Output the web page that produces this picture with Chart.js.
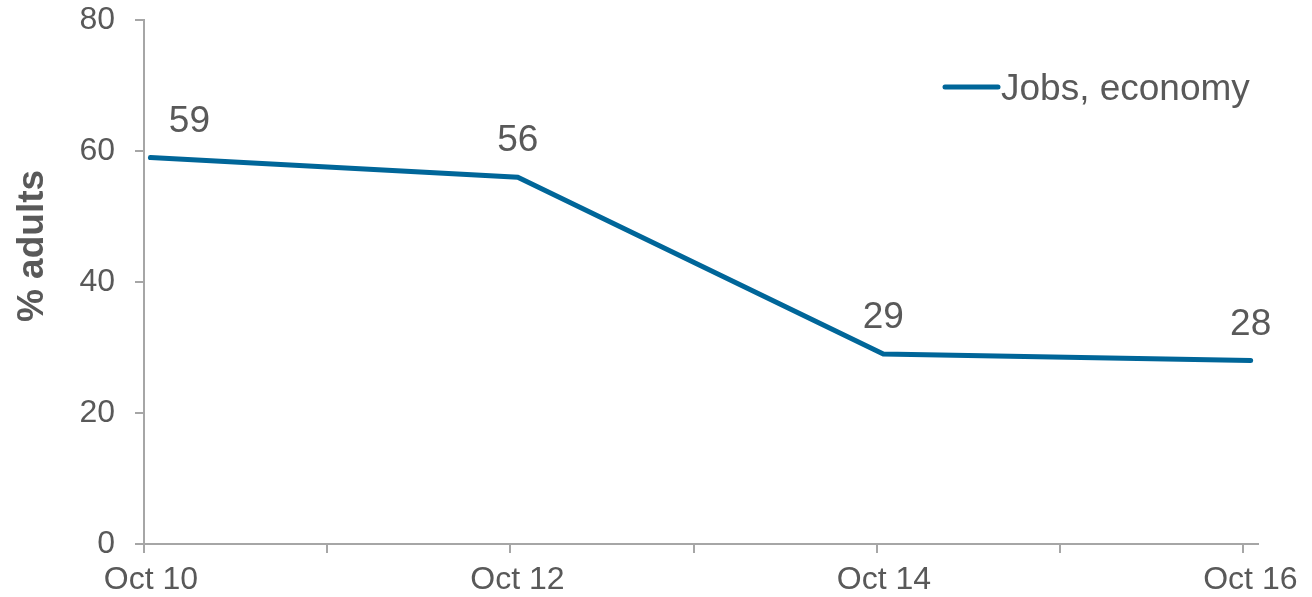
<!DOCTYPE html>
<html><head><meta charset="utf-8">
<script src="https://cdn.jsdelivr.net/npm/chart.js@4"></script>
<style>html,body{margin:0;padding:0;background:#fff}#wrap{width:1312px;height:597px}</style>
</head><body><div id="wrap"><canvas id="c" width="1312" height="597"></canvas></div>
<script>
const seriesName = 'Jobs, economy';
const surveyDays = [10.035, 12.04, 14.035, 16.04];   // day of October of each reading
const jobsEconomy = [59, 56, 29, 28];
const xTickDays = [10, 11, 12, 13, 14, 15, 16];
const xTickLabels = ['Oct 10', '', 'Oct 12', '', 'Oct 14', '', 'Oct 16'];
const yTicks = [0, 20, 40, 60, 80];
const yTitle = '% adults';

const FONT = '"Liberation Sans", Arial, sans-serif';
const TEXT = '#595959';
const AXIS = '#a6a6a6';
const BLUE = '#006699';

const valueLabels = {
  id: 'valueLabels',
  afterDatasetsDraw(chart) {
    const ctx = chart.ctx;
    const meta = chart.getDatasetMeta(0);
    ctx.save();
    ctx.font = '37px ' + FONT;
    ctx.fillStyle = TEXT;
    ctx.textAlign = 'center';
    ctx.textBaseline = 'alphabetic';
    meta.data.forEach((pt, i) => {
      const dx = i === 0 ? 39 : 0;
      ctx.fillText(String(chart.data.datasets[0].data[i].y), pt.x + dx, pt.y - 26);
    });
    ctx.restore();
  }
};

const customLegend = {
  id: 'customLegend',
  afterDraw(chart) {
    const ctx = chart.ctx;
    const ds = chart.data.datasets[0];
    ctx.save();
    ctx.strokeStyle = ds.borderColor;
    ctx.lineWidth = 5;
    ctx.lineCap = 'round';
    ctx.beginPath();
    ctx.moveTo(945, 87);
    ctx.lineTo(998, 87);
    ctx.stroke();
    ctx.font = '37px ' + FONT;
    ctx.fillStyle = TEXT;
    ctx.textAlign = 'left';
    ctx.textBaseline = 'alphabetic';
    ctx.fillText(ds.label, 1001, 100);
    ctx.restore();
  }
};

const axisTitle = {
  id: 'axisTitle',
  afterDraw(chart) {
    const ctx = chart.ctx;
    ctx.save();
    ctx.translate(33, 246);
    ctx.rotate(-Math.PI / 2);
    ctx.font = 'bold 37px ' + FONT;
    ctx.fillStyle = TEXT;
    ctx.textAlign = 'center';
    ctx.textBaseline = 'middle';
    ctx.fillText(yTitle, 0, 0);
    ctx.restore();
  }
};

new Chart(document.getElementById('c'), {
  type: 'line',
  data: {
    datasets: [{
      label: seriesName,
      data: surveyDays.map((d, i) => ({ x: d, y: jobsEconomy[i] })),
      borderColor: BLUE,
      backgroundColor: BLUE,
      borderWidth: 5,
      borderCapStyle: 'round',
      borderJoinStyle: 'miter',
      pointRadius: 0,
      tension: 0,
      clip: false
    }]
  },
  options: {
    responsive: false,
    animation: false,
    devicePixelRatio: 1,
    layout: { padding: { top: 20, right: 54, left: 0, bottom: 0 } },
    plugins: { legend: { display: false }, title: { display: false }, tooltip: { enabled: false } },
    scales: {
      x: {
        type: 'linear',
        min: 10,
        max: 16.08,
        afterBuildTicks: s => { s.ticks = xTickDays.map(v => ({ value: v })); },
        afterFit: s => { s.height = 53; s.paddingLeft = 0; s.paddingRight = 0; },
        grid: { drawOnChartArea: false, drawTicks: true, tickLength: 9, color: AXIS, lineWidth: 2 },
        border: { color: AXIS, width: 2 },
        ticks: {
          autoSkip: false, maxRotation: 0, padding: 8, labelOffset: 7,
          color: TEXT, font: { family: FONT, size: 32 },
          callback: (v, i) => xTickLabels[i]
        }
      },
      y: {
        min: 0,
        max: 80,
        afterBuildTicks: s => { s.ticks = yTicks.map(v => ({ value: v })); },
        afterFit: s => { s.width = 144; s.paddingTop = 0; s.paddingBottom = 0; },
        grid: { drawOnChartArea: false, drawTicks: true, tickLength: 9, color: AXIS, lineWidth: 2 },
        border: { color: AXIS, width: 2 },
        ticks: { padding: 20, color: TEXT, font: { family: FONT, size: 32 } }
      }
    }
  },
  plugins: [valueLabels, customLegend, axisTitle]
});
</script></body></html>
